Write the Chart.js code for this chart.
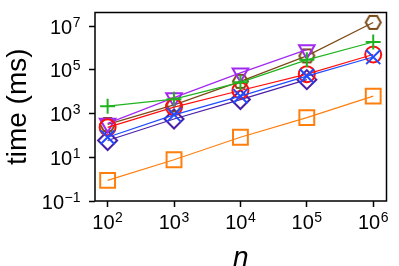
<!DOCTYPE html>
<html>
<head>
<meta charset="utf-8">
<script src="https://cdn.jsdelivr.net/npm/chart.js@4.4.0/dist/chart.umd.min.js"></script>
<style>
  html, body { margin: 0; padding: 0; background: #fff; }
</style>
</head>
<body>
<canvas id="timing-chart" width="399" height="266"></canvas>
<script>
// problem sizes on the x axis
const nValues = [1e2, 1e3, 1e4, 1e5, 1e6];

// running times (ms), one list per method
const plusTimes = [2200, 4600, 27000, 290000, 1.9e6];
const crossTimes = [83, 880, 6300, 52000, 390000];
const circleTimes = [235, 2000, 11500, 64000, 510000];
const triangleTimes = [360, 5400, 73000, 850000, null];
const hexagonTimes = [320, 2500, 30000, 440000, 1.5e7];
const diamondTimes = [59, 570, 4400, 36000, null];
const squareTimes = [0.88, 7.7, 83, 660, 6300];

// tick exponents
const xTickExps = [2, 3, 4, 5, 6];
const yTickExps = [-1, 1, 3, 5, 7];

const COLORS = {
  green: '#1fb41f',
  blue: '#1f4cff',
  red: '#ff0d0d',
  violet: '#a229f0',
  brown: '#7b4a17',
  indigo: '#4a1fa8',
  orange: '#ff7f0e',
};

const FONT = '"Liberation Sans", Arial, sans-serif';

function makeHexagon(color) {
  const c = document.createElement('canvas');
  c.width = 19;
  c.height = 17;
  const g = c.getContext('2d');
  g.strokeStyle = color;
  g.lineWidth = 2;
  g.beginPath();
  for (let i = 0; i < 6; i++) {
    const a = (Math.PI / 3) * i;
    const px = 9.5 + 7.5 * Math.cos(a);
    const py = 8.5 + 7.5 * Math.sin(a);
    if (i === 0) g.moveTo(px, py);
    else g.lineTo(px, py);
  }
  g.closePath();
  g.stroke();
  return c;
}

function toPoints(times) {
  return nValues
    .map((n, i) => ({ x: n, y: times[i] }))
    .filter((p) => p.y !== null);
}

function series(times, color, style, radius, extra = {}) {
  return {
    data: toPoints(times),
    borderColor: color,
    borderWidth: 1.2,
    pointStyle: style,
    pointRadius: radius,
    pointBorderColor: color,
    pointBackgroundColor: 'rgba(0,0,0,0)',
    pointBorderWidth: 2,
    showLine: true,
    tension: 0,
    clip: false,
    ...extra,
  };
}

// draws the frame, the power-of-ten labels and the axis titles
const axisTextPlugin = {
  id: 'axisText',
  afterDraw(chart) {
    const { ctx, chartArea, scales } = chart;
    ctx.save();
    ctx.strokeStyle = '#000';
    ctx.lineWidth = 1.5;
    ctx.strokeRect(
      chartArea.left,
      chartArea.top,
      chartArea.right - chartArea.left,
      chartArea.bottom - chartArea.top
    );

    ctx.fillStyle = '#000';
    ctx.textBaseline = 'alphabetic';
    ctx.textAlign = 'left';
    const mainFont = '20px ' + FONT;
    const supFont = '14px ' + FONT;

    function power(exp) {
      ctx.font = mainFont;
      const w1 = ctx.measureText('10').width;
      ctx.font = supFont;
      const sup = String(exp).replace('-', '\u2212');
      const w2 = ctx.measureText(sup).width;
      return { sup, w1, w2, total: w1 + w2 + 0.5 };
    }

    function drawPower(p, left, base) {
      ctx.font = mainFont;
      ctx.fillText('10', left, base);
      ctx.font = supFont;
      ctx.fillText(p.sup, left + p.w1 + 0.5, base - 7);
    }

    xTickExps.forEach((e) => {
      const px = scales.x.getPixelForValue(Math.pow(10, e));
      const p = power(e);
      drawPower(p, px - p.total / 2, chartArea.bottom + 27.5);
    });

    yTickExps.forEach((e) => {
      const py = scales.y.getPixelForValue(Math.pow(10, e));
      const p = power(e);
      drawPower(p, 80.5 - p.total, py + 7.5);
    });

    // axis titles
    ctx.font = 'italic 28px ' + FONT;
    ctx.textAlign = 'center';
    ctx.fillText('n', (chartArea.left + chartArea.right) / 2, 265.5);

    ctx.font = '28px ' + FONT;
    ctx.textBaseline = 'middle';
    ctx.translate(18, (chartArea.top + chartArea.bottom) / 2);
    ctx.rotate(-Math.PI / 2);
    ctx.fillText('time (ms)', 0, 0);
    ctx.restore();
  },
};

const tickGrid = {
  display: true,
  drawOnChartArea: false,
  drawTicks: true,
  tickLength: 6,
  tickWidth: 1.5,
  tickColor: '#000',
};

new Chart(document.getElementById('timing-chart').getContext('2d'), {
  type: 'scatter',
  data: {
    datasets: [
      series(plusTimes, COLORS.green, 'cross', 7.5),
      series(crossTimes, COLORS.blue, 'crossRot', 10),
      series(circleTimes, COLORS.red, 'circle', 8),
      series(triangleTimes, COLORS.violet, 'triangle', 9, { pointRotation: 180 }),
      series(hexagonTimes, COLORS.brown, makeHexagon(COLORS.brown), 8),
      series(diamondTimes, COLORS.indigo, 'rectRot', 9.5),
      series(squareTimes, COLORS.orange, 'rect', 10.5),
    ],
  },
  options: {
    responsive: false,
    animation: false,
    devicePixelRatio: 1,
    layout: { padding: { left: 0, top: 9, right: 11, bottom: 0 } },
    plugins: {
      legend: { display: false },
      tooltip: { enabled: false },
    },
    scales: {
      x: {
        type: 'logarithmic',
        min: Math.pow(10, 1.81),
        max: Math.pow(10, 6.2),
        grid: tickGrid,
        border: { display: false },
        ticks: { display: false },
        afterBuildTicks: (scale) => {
          scale.ticks = xTickExps.map((e) => ({ value: Math.pow(10, e) }));
        },
        afterFit: (scale) => {
          scale.height = 65;
        },
      },
      y: {
        type: 'logarithmic',
        min: 0.1,
        max: Math.pow(10, 7.63),
        grid: tickGrid,
        border: { display: false },
        ticks: { display: false },
        afterBuildTicks: (scale) => {
          scale.ticks = yTickExps.map((e) => ({ value: Math.pow(10, e) }));
        },
        afterFit: (scale) => {
          scale.width = 95;
        },
      },
    },
  },
  plugins: [axisTextPlugin],
});
</script>
</body>
</html>
